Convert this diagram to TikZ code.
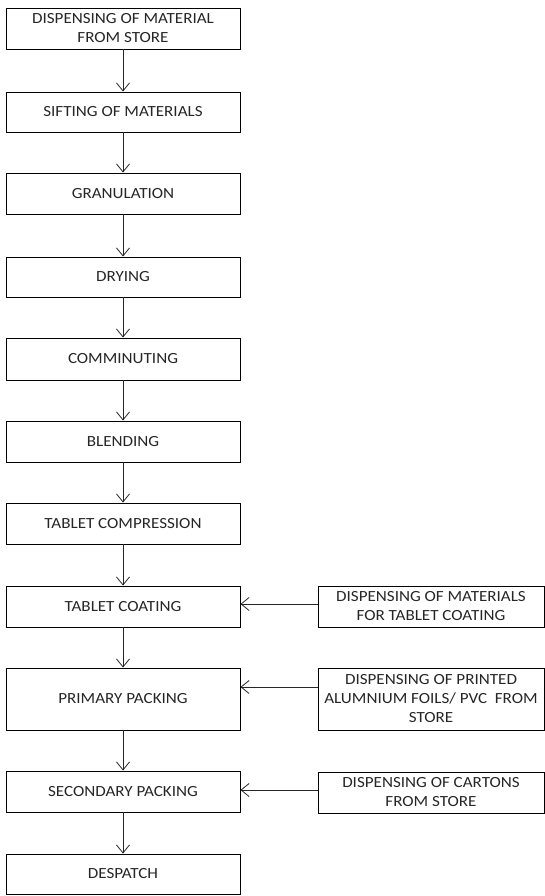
\documentclass[tikz,border=0pt]{standalone}
\usepackage{fontspec}
\setmainfont{Carlito}[FakeStretch=1.1]
\usetikzlibrary{arrows.meta}
\begin{document}
\begin{tikzpicture}[x=1pt,y=-1pt,
  box/.style={draw=black, line width=0.9pt, rectangle, inner sep=0pt, align=center,
    font=\fontsize{15.5}{19}\selectfont, text=black!85},
  lbox/.style={box, minimum width=234pt},
  rbox/.style={box, minimum width=226pt},
  flow/.style={draw=black!85, line width=0.8pt, -{Straight Barb[length=8pt,width=13pt]}}]
\useasboundingbox (0,0) rectangle (545,896);
\node[lbox, minimum height=41pt] (b1) at (123,28.5) {DISPENSING OF MATERIAL\\FROM STORE};
\node[lbox, minimum height=40pt] (b2) at (123,112) {SIFTING OF MATERIALS};
\node[lbox, minimum height=41pt] (b3) at (123,193.5) {GRANULATION};
\node[lbox, minimum height=40pt] (b4) at (123,277) {DRYING};
\node[lbox, minimum height=42pt] (b5) at (123,359) {COMMINUTING};
\node[lbox, minimum height=41pt] (b6) at (123,441.5) {BLENDING};
\node[lbox, minimum height=41pt] (b7) at (123,523.5) {TABLET COMPRESSION};
\node[lbox, minimum height=41pt] (b8) at (123,606.5) {TABLET COATING};
\node[lbox, minimum height=62pt] (b9) at (123,699) {PRIMARY PACKING};
\node[lbox, minimum height=41pt] (b10) at (123,791.5) {SECONDARY PACKING};
\node[lbox, minimum height=40pt] (b11) at (123,874) {DESPATCH};
\node[rbox, minimum height=41pt] (r1) at (431,606.5) {DISPENSING OF MATERIALS\\FOR TABLET COATING};
\node[rbox, minimum height=62pt] (r2) at (431,699) {DISPENSING OF PRINTED\\ALUMNIUM FOILS/ PVC\ \ FROM\\STORE};
\node[rbox, minimum height=41pt] (r3) at (431,792.5) {DISPENSING OF CARTONS\\FROM STORE};
\foreach \a/\b in {b1/b2,b2/b3,b3/b4,b4/b5,b5/b6,b6/b7,b7/b8,b8/b9,b9/b10,b10/b11}
  \draw[flow] (\a.south) -- (\b.north);
\draw[flow] ([yshift=2.5pt]r1.west) -- ([yshift=2.5pt]r1.west -| b8.east);
\draw[flow] ([yshift=12pt]r2.west) -- ([yshift=12pt]r2.west -| b9.east);
\draw[flow] ([yshift=2.5pt]r3.west) -- ([yshift=2.5pt]r3.west -| b10.east);
\end{tikzpicture}
\end{document}
